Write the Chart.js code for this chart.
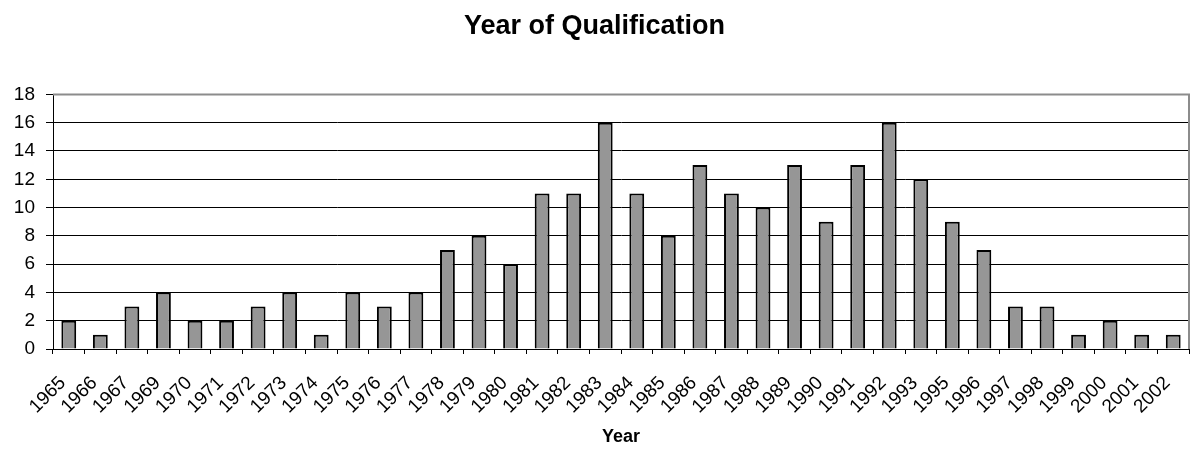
<!DOCTYPE html>
<html>
<head>
<meta charset="utf-8">
<script src="https://cdn.jsdelivr.net/npm/chart.js@4"></script>
<style>
  html, body { margin: 0; padding: 0; background: #fff; }
  #wrap { width: 1195px; height: 449px; }
</style>
</head>
<body>
<div id="wrap"><canvas id="chart"></canvas></div>
<script>
const years = ['1965', '1966', '1967', '1969', '1970', '1971', '1972', '1973', '1974', '1975',
  '1976', '1977', '1978', '1979', '1980', '1981', '1982', '1983', '1984', '1985',
  '1986', '1987', '1988', '1989', '1990', '1991', '1992', '1993', '1995', '1996',
  '1997', '1998', '1999', '2000', '2001', '2002'];
const counts = [2, 1, 3, 4, 2, 2, 3, 4, 1, 4,
  3, 4, 7, 8, 6, 11, 11, 16, 11, 8,
  13, 11, 10, 13, 9, 13, 16, 12, 9, 7,
  3, 3, 1, 2, 1, 1];
const yTicks = [0, 2, 4, 6, 8, 10, 12, 14, 16, 18];

const FONT = 'Arial, "Liberation Sans", sans-serif';

// grey frame on top and right of the plot area, like the original
const framePlugin = {
  id: 'frame',
  afterDraw(chart) {
    const { ctx, chartArea: a } = chart;
    ctx.save();
    ctx.strokeStyle = '#8c8c8c';
    ctx.lineWidth = 2;
    ctx.beginPath();
    ctx.moveTo(a.left, a.top);
    ctx.lineTo(a.right, a.top);
    ctx.lineTo(a.right, a.bottom);
    ctx.stroke();
    ctx.restore();
  }
};

new Chart(document.getElementById('chart'), {
  type: 'bar',
  data: {
    labels: years,
    datasets: [{
      label: 'Count',
      data: counts,
      backgroundColor: '#969696',
      borderColor: '#000',
      borderWidth: 2,
      barPercentage: 0.47,
      categoryPercentage: 1
    }]
  },
  options: {
    responsive: true,
    maintainAspectRatio: false,
    animation: false,
    layout: { padding: { left: 0, right: 6, top: 0, bottom: 0 } },
    plugins: {
      legend: { display: false },
      tooltip: { enabled: false },
      title: {
        display: true,
        text: 'Year of Qualification',
        color: '#000',
        font: { family: FONT, size: 27, weight: 'bold' },
        padding: { top: 10, bottom: 52 }
      }
    },
    scales: {
      x: {
        grid: {
          offset: true,
          drawOnChartArea: false,
          drawTicks: true,
          tickLength: 5,
          tickColor: '#000'
        },
        border: { color: '#000', width: 1 },
        ticks: {
          color: '#000',
          font: { family: FONT, size: 19 },
          minRotation: 45,
          maxRotation: 45,
          autoSkip: false,
          labelOffset: -6,
          padding: 18
        },
        title: {
          display: true,
          text: 'Year',
          color: '#000',
          font: { family: FONT, size: 18, weight: 'bold' },
          padding: { top: 0, bottom: 1 }
        },
        afterFit(scale) {
          scale.height = 100;
          // keep the plot area as wide as in the original
          scale.paddingLeft = 0;
          scale.paddingRight = 0;
        }
      },
      y: {
        min: 0,
        max: 18,
        afterBuildTicks(scale) { scale.ticks = yTicks.map(v => ({ value: v })); },
        grid: {
          color: ctx => (ctx.tick && ctx.tick.value === 18 ? 'rgba(0,0,0,0)' : '#000'),
          lineWidth: 1,
          tickLength: 7,
          tickColor: '#000'
        },
        border: { color: '#000', width: 1 },
        ticks: {
          color: '#000',
          font: { family: FONT, size: 19 },
          padding: 11
        },
        afterFit(scale) { scale.width = 53; }
      }
    }
  },
  plugins: [framePlugin]
});
</script>
</body>
</html>
